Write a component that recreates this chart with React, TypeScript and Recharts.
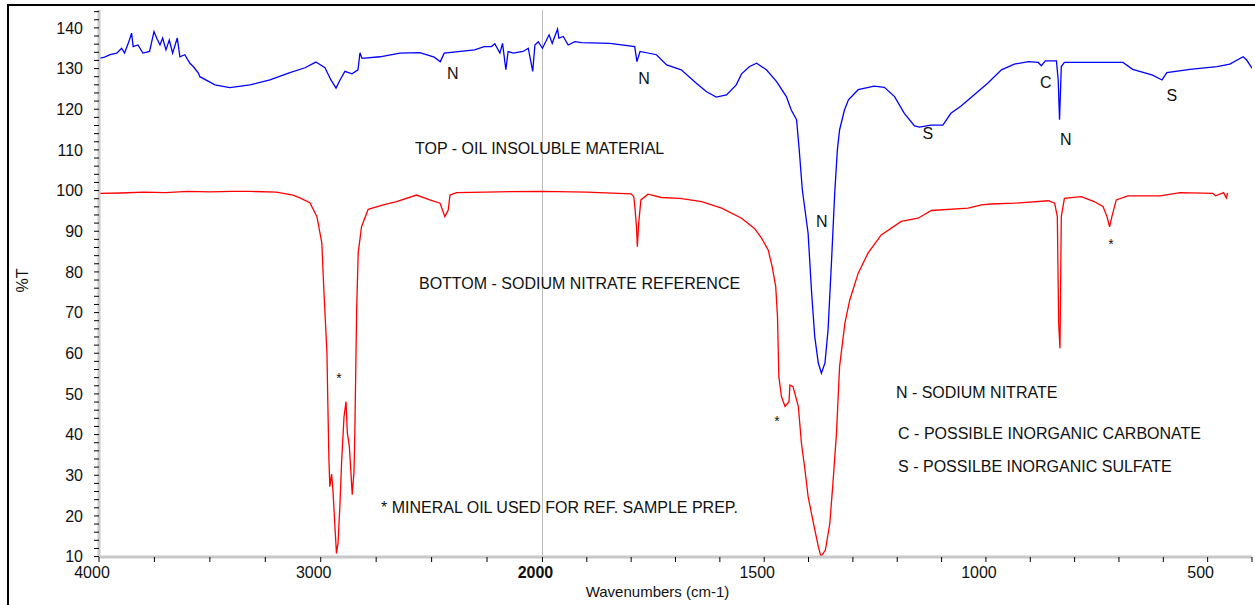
import { LineChart, Line, XAxis, YAxis, ReferenceLine, ReferenceDot, Label } from 'recharts';

// top spectrum: oil insoluble material
const topWn = [
  4000, 3975, 3950, 3920, 3898, 3885, 3868, 3853, 3846, 3824, 3802, 3772, 3752, 3740, 3725, 3713, 3698, 3683,
  3668, 3647, 3635, 3613, 3590, 3575, 3552, 3545, 3477, 3410, 3319, 3229, 3139, 3071, 3022, 2981, 2954, 2931,
  2913, 2891, 2859, 2832, 2823, 2814, 2733, 2643, 2553, 2488, 2461, 2443, 2306, 2263, 2230, 2215, 2192, 2180,
  2165, 2155, 2132, 2087, 2064, 2044, 2034, 2019, 2000, 1985, 1978, 1966, 1963, 1953, 1942, 1927, 1912, 1848,
  1792, 1787, 1780, 1743, 1720, 1687, 1653, 1630, 1608, 1585, 1563, 1551, 1533, 1517, 1495, 1472, 1450, 1439,
  1427, 1421, 1414, 1401, 1393, 1386, 1378, 1371, 1363, 1356, 1348, 1341, 1335, 1330, 1319, 1310, 1288, 1252,
  1229, 1206, 1184, 1161, 1150, 1124, 1097, 1079, 1056, 1027, 996, 965, 936, 904, 882, 875, 866, 841, 837, 834,
  830, 823, 765, 691, 669, 624, 603, 592, 540, 479, 450, 420, 412, 400,
];
const topT = [
  132.5, 132.8, 133.4, 133.8, 135.0, 133.8, 136.2, 138.7, 135.4, 135.8, 133.8, 134.2, 139.1, 137.5, 135.8, 137.5, 134.6, 137.0,
  133.8, 137.5, 132.9, 133.4, 131.3, 130.5, 128.9, 128.0, 126.0, 125.3, 126.0, 127.2, 129.0, 130.2, 131.6, 130.2, 127.2, 125.2,
  127.2, 129.3, 128.7, 129.7, 133.9, 132.5, 132.9, 133.8, 133.9, 132.8, 131.7, 133.8, 134.6, 135.4, 135.4, 136.1, 133.8, 136.2,
  129.7, 134.2, 133.8, 134.2, 135.0, 129.3, 135.8, 136.6, 135.0, 138.3, 136.2, 139.7, 137.5, 137.9, 135.8, 136.6, 136.4, 136.2,
  135.4, 131.7, 134.2, 133.4, 130.9, 129.7, 126.4, 124.3, 123.0, 123.5, 126.0, 128.7, 130.5, 131.3, 129.7, 126.8, 123.1, 119.8,
  117.4, 110.0, 100.2, 89.5, 74.8, 64.1, 57.6, 55.1, 57.6, 65.7, 83.0, 99.3, 110.0, 114.9, 119.8, 122.3, 124.8, 125.7,
  125.4, 123.1, 119.0, 115.9, 115.6, 116.1, 116.1, 119.0, 120.8, 123.5, 126.4, 129.7, 131.1, 131.7, 131.5, 130.7, 131.9, 131.9, 127.2, 117.4,
  130.5, 131.5, 131.5, 131.5, 129.8, 128.4, 127.2, 129.0, 129.8, 130.5, 131.1, 132.9, 132.1, 130.1,
];

// bottom spectrum: sodium nitrate reference
const refWn = [
  4000, 3900, 3800, 3700, 3600, 3500, 3400, 3320, 3200, 3125, 3094, 3049, 3017, 2995, 2986, 2972, 2968, 2963,
  2959, 2951, 2945, 2936, 2929, 2922, 2913, 2906, 2895, 2886, 2880, 2871, 2864, 2858, 2850, 2846, 2838, 2831,
  2816, 2786, 2718, 2658, 2568, 2508, 2462, 2440, 2425, 2417, 2387, 2200, 2000, 1900, 1800, 1794, 1791, 1788,
  1786, 1783, 1778, 1762, 1732, 1690, 1641, 1596, 1551, 1522, 1506, 1491, 1482, 1474, 1470, 1467, 1461, 1453,
  1444, 1442, 1435, 1423, 1416, 1408, 1401, 1389, 1378, 1372, 1362, 1352, 1345, 1337, 1330, 1318, 1307, 1288,
  1266, 1236, 1191, 1153, 1123, 1040, 1010, 988, 936, 859, 845, 839, 836, 833, 830, 823, 785, 756, 736, 727,
  721, 716, 706, 680, 607, 562, 488, 482, 464, 458, 455,
];
const refT = [
  99.3, 99.4, 99.6, 99.5, 99.8, 99.7, 99.8, 99.8, 99.6, 98.9, 98.2, 97.0, 93.6, 87.1, 75.6, 60.1, 47.8, 33.8,
  27.2, 30.3, 26.4, 17.4, 10.8, 13.3, 23.2, 33.1, 44.4, 48.1, 40.4, 37.1, 30.9, 25.2, 30.9, 41.2, 70.7, 84.7,
  91.1, 95.4, 96.5, 97.3, 98.9, 97.7, 96.9, 93.6, 95.2, 98.9, 99.5, 99.7, 99.8, 99.6, 99.2, 98.5, 95.2, 91.1,
  86.2, 92.0, 97.7, 99.1, 98.3, 98.1, 97.3, 95.7, 93.2, 90.7, 88.3, 85.4, 81.3, 76.4, 69.0, 54.3, 49.3, 46.9,
  48.1, 52.2, 51.8, 46.9, 37.9, 31.3, 24.8, 18.2, 12.5, 10.0, 11.6, 18.2, 28.0, 40.3, 56.7, 67.4, 73.1, 79.7,
  84.6, 89.1, 92.4, 93.2, 95.1, 95.7, 96.5, 96.7, 96.9, 97.5, 96.9, 93.6, 67.4, 61.2, 93.6, 98.1, 98.5, 97.3, 96.1, 93.6,
  91.1, 93.6, 97.7, 98.7, 98.7, 99.5, 99.3, 98.7, 99.5, 98.2, 99.4,
];

// x ticks (wavenumbers) and labelled ones
const xTickWn = [
  4000, 3750, 3500, 3250, 3000, 2750, 2500, 2250, 2000, 1900, 1800, 1700, 1600, 1500, 1400, 1300, 1200, 1100,
  1000, 900, 800, 700, 600, 500, 400,
];
const xLabelWn = [4000, 3000, 2000, 1500, 1000, 500];
const yTicks = [10, 12, 14, 16, 18, 20, 22, 24, 26, 28, 30, 32, 34, 36, 38, 40, 42, 44, 46, 48, 50, 52, 54, 56, 58,
  60, 62, 64, 66, 68, 70, 72, 74, 76, 78, 80, 82, 84, 86, 88, 90, 92, 94, 96, 98, 100, 102, 104, 106, 108, 110,
  112, 114, 116, 118, 120, 122, 124, 126, 128, 130, 132, 134, 136, 138, 140, 142, 144];

// peak letters
const markText = ['N', 'N', 'S', 'C', 'N', 'S', 'N', '*', '*', '*'];
const markWn = [2404, 1771, 1131, 865, 820, 581, 1370, 2918, 1471, 718];
const markT = [128.9, 127.5, 114.2, 126.5, 112.5, 123.3, 92.5, 53.9, 43.4, 86.9];

// notes
const noteText = [
  'TOP - OIL INSOLUBLE MATERIAL',
  'BOTTOM - SODIUM NITRATE REFERENCE',
  '* MINERAL OIL USED FOR REF. SAMPLE PREP.',
  'N - SODIUM NITRATE',
  'C - POSSIBLE INORGANIC CARBONATE',
  'S - POSSILBE INORGANIC SULFATE',
];
const noteWn = [2575, 2557, 2728, 1203, 1198, 1198];
const noteT = [110.5, 77.3, 22.0, 50.3, 40.4, 32.1];

const FONT = '"Liberation Sans", Arial, sans-serif';

// spectrometer axis: 4000-2000 is drawn at half scale
const toAxis = (wn: number) => (wn >= 2000 ? (4000 - wn) / 2 : 1000 + (2000 - wn));
const fromAxis = (u: number) => Math.round(u <= 1000 ? 4000 - 2 * u : 2000 - (u - 1000));

const topData = topWn.map((wn, i) => ({ u: toAxis(wn), t: topT[i] }));
const refData = refWn.map((wn, i) => ({ u: toAxis(wn), t: refT[i] }));

const XTick = (props: any) => {
  const { x, y, payload } = props;
  const wn = fromAxis(payload.value);
  if (!xLabelWn.includes(wn)) return null;
  return (
    <text x={x - 7} y={y} dy="0.71em" textAnchor="middle" fontSize={16} fontFamily={FONT}
      fontWeight={wn === 2000 ? 'bold' : 'normal'} fill="#111">
      {wn}
    </text>
  );
};

const YTick = (props: any) => {
  const { x, y, payload } = props;
  if (payload.value % 10 !== 0) return null;
  return (
    <text x={x} y={y} dy="0.355em" textAnchor="end" fontSize={16} fontFamily={FONT} fill="#111">
      {payload.value}
    </text>
  );
};

export default function App() {
  return (
    <div style={{ position: 'absolute', left: 0, top: 0, width: 1255, height: 605, overflow: 'hidden', background: '#fff' }}>
      <div style={{ position: 'absolute', left: 7, top: 4, width: 1300, height: 700, borderTop: '2px solid #000', borderLeft: '2px solid #000' }} />
      <div style={{ position: 'absolute', left: 0, top: 0 }}>
        <LineChart width={1255} height={605} margin={{ top: 10, right: 3, bottom: 0, left: 0 }}>
          <XAxis
            dataKey="u"
            type="number"
            domain={[0, 2600]}
            ticks={xTickWn.map(toAxis)}
            interval={0}
            height={48}
            tickSize={5}
            tickMargin={5}
            axisLine={{ stroke: '#c8c8c8', strokeWidth: 3 }}
            tickLine={{ stroke: '#000' }}
            tick={<XTick />}
            allowDataOverflow
          >
            <Label value="Wavenumbers (cm-1)" position="center" dx={-18} dy={11} fontSize={15} fontFamily={FONT} fill="#111" />
          </XAxis>
          <YAxis
            type="number"
            domain={[9.9, 144.4]}
            ticks={yTicks}
            interval={0}
            width={99}
            tickSize={5}
            tickMargin={11}
            axisLine={{ stroke: '#c8c8c8', strokeWidth: 3 }}
            tickLine={{ stroke: '#000' }}
            tick={<YTick />}
            allowDataOverflow
          >
            <Label
              content={(p: any) => {
                const vb = p.viewBox || { x: 0, y: 10, width: 99, height: 547 };
                const cx = vb.x + 22;
                const cy = vb.y + vb.height / 2 - 3;
                return (
                  <text x={cx} y={cy} dy="0.355em" textAnchor="middle" fontSize={16} fontFamily={FONT} fill="#111"
                    transform={`rotate(-90 ${cx} ${cy})`}>
                    %T
                  </text>
                );
              }}
            />
          </YAxis>
          <ReferenceLine x={toAxis(2000)} stroke="#b8b8b8" strokeWidth={1} />
          <Line data={refData} dataKey="t" type="linear" stroke="#ff0000" strokeWidth={1.3} dot={false} isAnimationActive={false} />
          <Line data={topData} dataKey="t" type="linear" stroke="#0000ff" strokeWidth={1.3} dot={false} isAnimationActive={false} />
          {markText.map((m, i) => (
            <ReferenceDot key={`m${i}`} x={toAxis(markWn[i])} y={markT[i]} r={0} fill="none" stroke="none"
              label={{ value: m, position: 'center', fontSize: m === '*' ? 14 : 16, fontFamily: FONT, fill: '#111' }} />
          ))}
          {noteText.map((n, i) => (
            <ReferenceDot key={`n${i}`} x={toAxis(noteWn[i])} y={noteT[i]} r={0} fill="none" stroke="none"
              label={{ value: n, position: 'right', offset: 0, fontSize: 16, fontFamily: FONT, fill: '#111' }} />
          ))}
        </LineChart>
      </div>
    </div>
  );
}
